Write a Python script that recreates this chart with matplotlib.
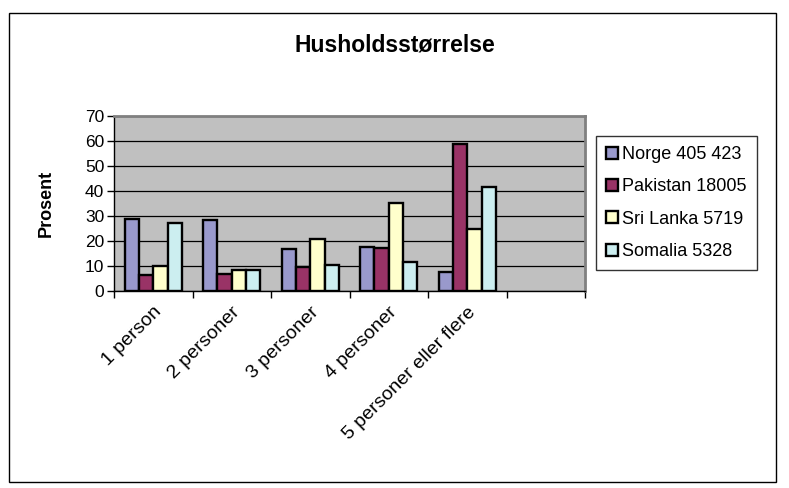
import matplotlib
matplotlib.use("Agg")
import matplotlib.pyplot as plt
import numpy as np
from matplotlib.patches import Rectangle

plt.rcParams['font.family'] = ['Liberation Sans', 'DejaVu Sans']

title = "Husholdsstørrelse"
ylabel = "Prosent"
categories = ["1 person", "2 personer", "3 personer", "4 personer",
              "5 personer eller flere"]
series_names = ["Norge 405 423", "Pakistan 18005", "Sri Lanka 5719",
                "Somalia 5328"]
norge = [29.0, 28.6, 16.9, 17.7, 7.8]
pakistan = [6.6, 6.7, 9.7, 17.4, 59.0]
sri_lanka = [10.1, 8.3, 20.9, 35.4, 24.9]
somalia = [27.4, 8.6, 10.5, 11.8, 41.7]
yticks = [0, 10, 20, 30, 40, 50, 60, 70]

colors = ["#9999CC", "#993366", "#FFFFCC", "#CCEEF0"]
series = [norge, pakistan, sri_lanka, somalia]

W, H = 789, 488
fig = plt.figure(figsize=(W / 100, H / 100), dpi=100)
fig.patch.set_facecolor("white")

# outer chart frame
fig.add_artist(Rectangle((9 / W, 1 - 482 / H), (776 - 9) / W, (482 - 13) / H,
                         transform=fig.transFigure, fill=False,
                         edgecolor="black", linewidth=1.0))

left, right, top, bottom = 114, 585, 116, 291
ax = fig.add_axes([left / W, 1 - bottom / H, (right - left) / W, (bottom - top) / H])
ax.set_facecolor("#C0C0C0")

n_slots = 6  # one empty category slot at the end
bw = 1 / 5.5
x = np.arange(len(categories)) + 0.5
for k, (vals, c, name) in enumerate(zip(series, colors, series_names)):
    ax.bar(x + (k - 1.5) * bw, vals, width=bw, color=c, edgecolor="black",
           linewidth=1.7, label=name, zorder=3)

ax.set_xlim(0, n_slots)
ax.set_ylim(0, 70)
ax.set_yticks(yticks)
ax.set_yticklabels([str(v) for v in yticks], fontsize=12.5)
ax.yaxis.grid(True, color="black", linewidth=0.9, zorder=1)
ax.set_axisbelow(True)

ax.set_xticks(np.arange(n_slots + 1))
ax.set_xticklabels([])
ax.set_xticks(x, minor=True)
ax.set_xticklabels(categories, minor=True, rotation=45, ha="right",
                   va="top", rotation_mode="anchor", fontsize=14)
ax.tick_params(axis="x", which="minor", length=0, pad=9)
ax.tick_params(axis="x", which="major", length=5, width=1, direction="out")
ax.tick_params(axis="y", length=5, width=1, direction="out", pad=2)

for s in ["top", "right"]:
    ax.spines[s].set_color("#808080")
    ax.spines[s].set_linewidth(2.0)
for s in ["left", "bottom"]:
    ax.spines[s].set_color("black")
    ax.spines[s].set_linewidth(1.0)

ax.set_ylabel(ylabel, fontsize=13, fontweight="bold", labelpad=22)
fig.text(395 / W, 1 - 45 / H, title, ha="center", va="center",
         fontsize=16.5, fontweight="bold")

leg = fig.legend(loc="upper left", bbox_to_anchor=(596 / W, 1 - 136 / H),
                 bbox_transform=fig.transFigure, fontsize=13,
                 frameon=True, fancybox=False, handlelength=0.65,
                 handleheight=0.65, handletextpad=0.25, labelspacing=0.85,
                 borderpad=0.55, borderaxespad=0)
leg.get_frame().set_edgecolor("black")
leg.get_frame().set_linewidth(1.0)

fig.savefig("out.png", dpi=100)
